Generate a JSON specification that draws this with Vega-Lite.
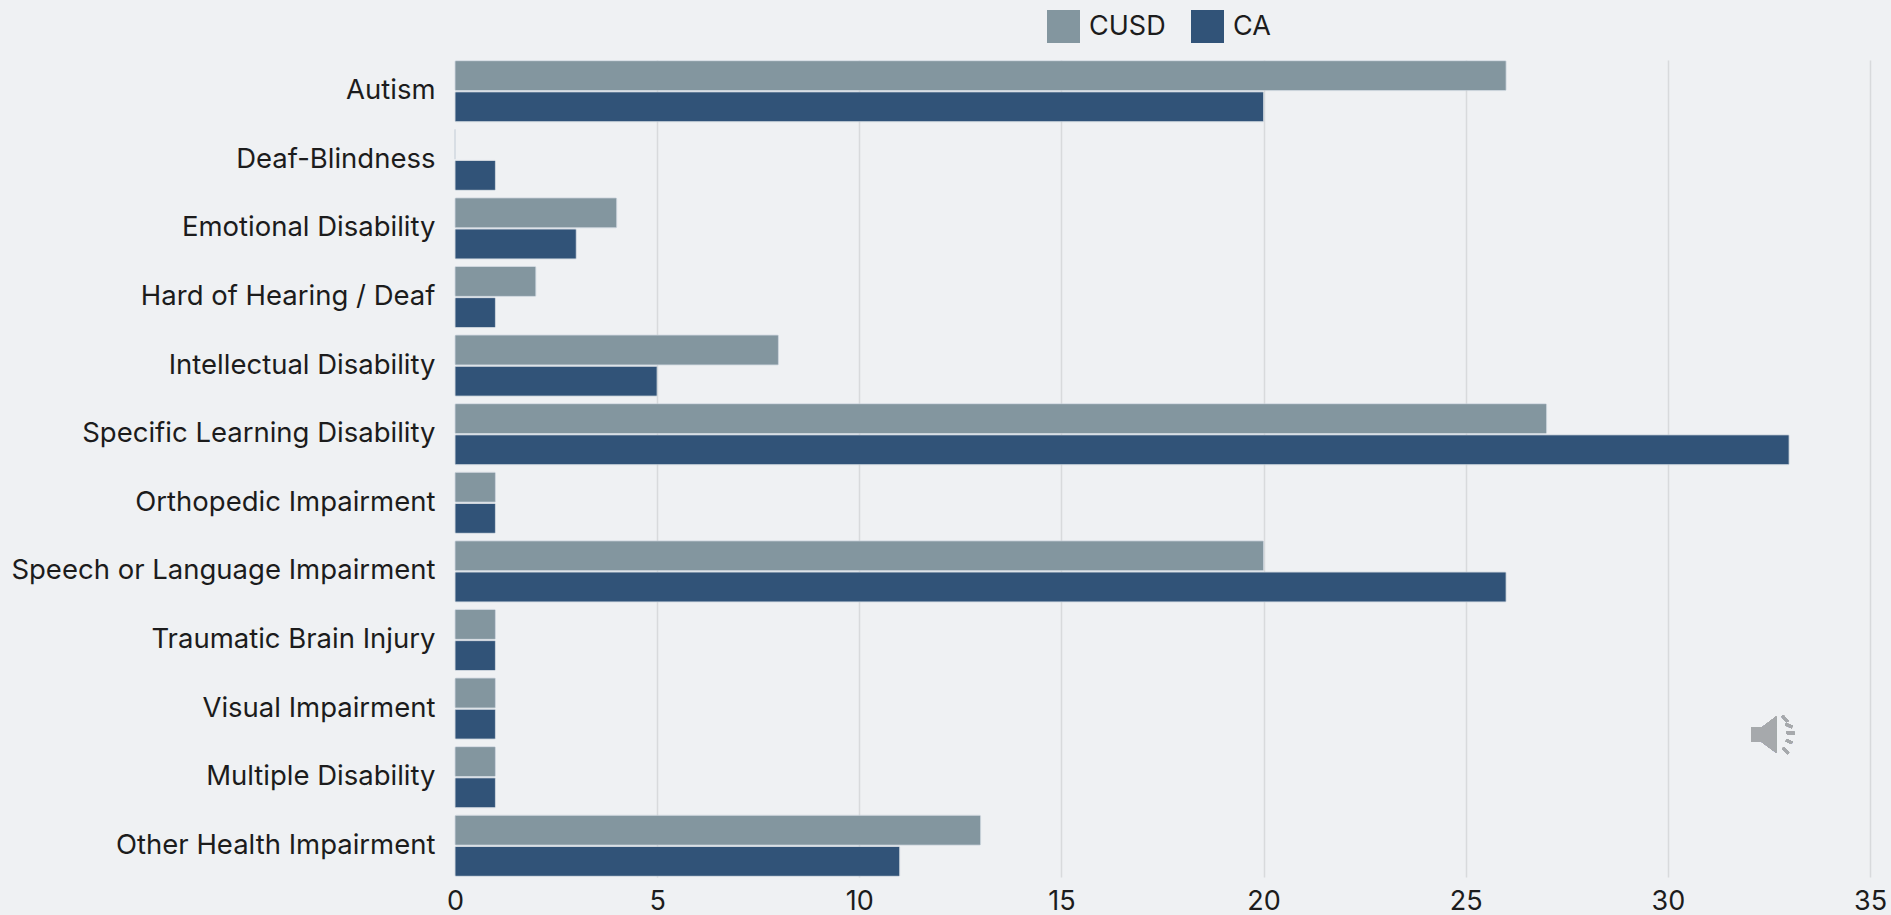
{
  "$schema": "https://vega.github.io/schema/vega-lite/v6.json",
  "width": 1415,
  "height": 817,
  "autosize": "none",
  "padding": {"left": 455, "top": 60, "right": 21, "bottom": 38},
  "background": "#eff1f3",
  "view": {"stroke": null},
  "config": {"font": "Inter"},
  "data": {"values": [
    {"category": "Autism", "group": "CUSD", "percent": 26},
    {"category": "Autism", "group": "CA", "percent": 20},
    {"category": "Deaf-Blindness", "group": "CUSD", "percent": 0},
    {"category": "Deaf-Blindness", "group": "CA", "percent": 1},
    {"category": "Emotional Disability", "group": "CUSD", "percent": 4},
    {"category": "Emotional Disability", "group": "CA", "percent": 3},
    {"category": "Hard of Hearing / Deaf", "group": "CUSD", "percent": 2},
    {"category": "Hard of Hearing / Deaf", "group": "CA", "percent": 1},
    {"category": "Intellectual Disability", "group": "CUSD", "percent": 8},
    {"category": "Intellectual Disability", "group": "CA", "percent": 5},
    {"category": "Specific Learning Disability", "group": "CUSD", "percent": 27},
    {"category": "Specific Learning Disability", "group": "CA", "percent": 33},
    {"category": "Orthopedic Impairment", "group": "CUSD", "percent": 1},
    {"category": "Orthopedic Impairment", "group": "CA", "percent": 1},
    {"category": "Speech or Language Impairment", "group": "CUSD", "percent": 20},
    {"category": "Speech or Language Impairment", "group": "CA", "percent": 26},
    {"category": "Traumatic Brain Injury", "group": "CUSD", "percent": 1},
    {"category": "Traumatic Brain Injury", "group": "CA", "percent": 1},
    {"category": "Visual Impairment", "group": "CUSD", "percent": 1},
    {"category": "Visual Impairment", "group": "CA", "percent": 1},
    {"category": "Multiple Disability", "group": "CUSD", "percent": 1},
    {"category": "Multiple Disability", "group": "CA", "percent": 1},
    {"category": "Other Health Impairment", "group": "CUSD", "percent": 13},
    {"category": "Other Health Impairment", "group": "CA", "percent": 11}
  ]},
  "layer": [
    {
      "mark": {"type": "bar", "cornerRadius": 1, "stroke": "#c5ced6", "strokeWidth": 0.6},
      "encoding": {
        "y": {
          "field": "category",
          "type": "nominal",
          "title": null,
          "sort": null,
          "scale": {"paddingInner": 0.11, "paddingOuter": 0.01},
          "axis": {
            "domain": false,
            "ticks": false,
            "labelPadding": 20,
            "labelFontSize": 27.5,
            "labelColor": "#1c1c1c",
            "labelLimit": 450
          }
        },
        "x": {
          "field": "percent",
          "type": "quantitative",
          "title": null,
          "scale": {"domain": [0, 35], "nice": false},
          "axis": {
            "values": [0, 5, 10, 15, 20, 25, 30, 35],
            "domain": false,
            "ticks": false,
            "labelPadding": 11,
            "labelFontSize": 27,
            "labelColor": "#1c1c1c",
            "labelFlush": false,
            "gridColor": "#d8dadc",
            "gridWidth": 1.5,
            "gridOpacity": {"condition": {"test": "datum.value === 0", "value": 0}, "value": 1}
          }
        },
        "yOffset": {
          "field": "group",
          "type": "nominal",
          "sort": ["CUSD", "CA"],
          "scale": {"paddingInner": 0.04}
        },
        "strokeOpacity": {
          "condition": {"test": "datum.percent === 0", "value": 0},
          "value": 1
        },
        "color": {
          "field": "group",
          "type": "nominal",
          "title": null,
          "scale": {"domain": ["CUSD", "CA"], "range": ["#83969f", "#315378"]},
          "legend": {
            "orient": "none",
            "legendX": 592,
            "legendY": -50,
            "direction": "horizontal",
            "columns": 2,
            "padding": 0,
            "symbolType": "square",
            "symbolSize": 1089,
            "symbolStrokeWidth": 0,
            "labelFontSize": 27,
            "labelColor": "#1c1c1c",
            "labelOffset": 9,
            "columnPadding": 25
          }
        }
      }
    },
    {
      "mark": {
        "type": "point",
        "filled": true,
        "fill": "#a6a9ac",
        "opacity": 1,
        "size": 841,
        "shape": "M-1.2 1.3 L-0.5 1.3 L0.5 0.55 L0.5 3.05 L-0.5 2.3 L-1.2 2.3 Z M0.85 0.55 L1.0 0.45 L1.35 0.85 L1.2 0.95 Z M1.1 1.15 L1.2 1.0 L1.65 1.2 L1.55 1.35 Z M1.2 1.75 L1.2 1.6 L1.75 1.6 L1.75 1.8 Z M1.15 2.25 L1.25 2.1 L1.65 2.3 L1.55 2.45 Z M0.9 2.75 L1.05 2.65 L1.4 3.05 L1.25 3.15 Z"
      },
      "encoding": {
        "x": {"datum": 32.5, "type": "quantitative"},
        "y": {"datum": "Visual Impairment", "type": "nominal"}
      }
    }
  ]
}
